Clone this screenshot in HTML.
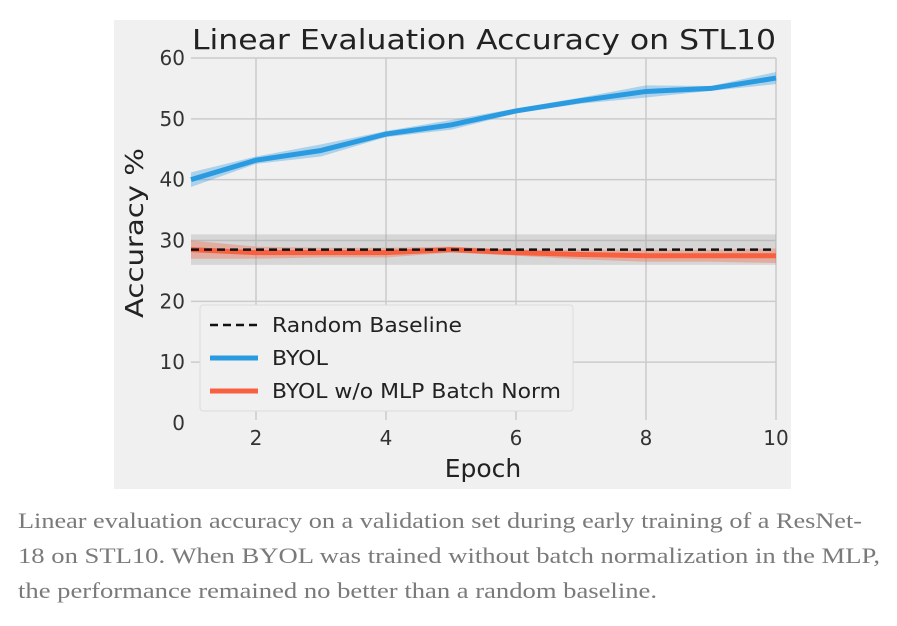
<!DOCTYPE html>
<html><head><meta charset="utf-8"><style>
body{margin:0;width:897px;height:626px;background:#fff;overflow:hidden;position:relative}
</style></head><body>
<svg width="897" height="626" style="position:absolute;left:0;top:0" font-family="DejaVu Sans, sans-serif">
<rect x="114" y="20" width="677" height="469" fill="#f0f0f0"/>
<g id="grid"></g><g id="marks"></g>
<text x="192" y="49" font-size="28" fill="#222" textLength="584" lengthAdjust="spacingAndGlyphs">Linear Evaluation Accuracy on STL10</text>
<text x="483" y="477" text-anchor="middle" font-size="25" fill="#222">Epoch</text>
<text transform="translate(143,318) rotate(-90)" font-size="25" fill="#222" textLength="170" lengthAdjust="spacingAndGlyphs">Accuracy %</text>
<g>
<rect x="200" y="305" width="373" height="106" rx="3" fill="#f0f0f0" stroke="#dcdcdc"/>
<line x1="210" y1="325" x2="258" y2="325" stroke="#111" stroke-width="2.5" stroke-dasharray="8,5"/>
<text x="272" y="332" font-size="20" fill="#222" textLength="190" lengthAdjust="spacingAndGlyphs">Random Baseline</text>
<line x1="210" y1="358" x2="258" y2="358" stroke="#2a9be0" stroke-width="5"/>
<text x="272" y="365" font-size="20" fill="#222" textLength="56" lengthAdjust="spacingAndGlyphs">BYOL</text>
<line x1="210" y1="391" x2="258" y2="391" stroke="#f8613f" stroke-width="5"/>
<text x="272" y="398" font-size="20" fill="#222" textLength="289" lengthAdjust="spacingAndGlyphs">BYOL w/o MLP Batch Norm</text>
</g>
<g font-family="Liberation Serif, serif" font-size="22" fill="#7a7a7a">
<text x="18" y="528" textLength="844" lengthAdjust="spacingAndGlyphs">Linear evaluation accuracy on a validation set during early training of a ResNet-</text>
<text x="18" y="563" textLength="862" lengthAdjust="spacingAndGlyphs">18 on STL10. When BYOL was trained without batch normalization in the MLP,</text>
<text x="18" y="598" textLength="639" lengthAdjust="spacingAndGlyphs">the performance remained no better than a random baseline.</text>
</g>
</svg>
<script>
const epochs=[1,2,3,4,5,6,7,8,9,10];
const byol=[40,43.2,44.8,47.5,49,51.3,53,54.5,55,56.7];
const byolErr=[1.2,0.6,1,0.5,0.8,0.4,0.5,1,0.4,1];
const noBn=[28.5,28,28,28,28.5,28,27.7,27.5,27.5,27.5];
const noBnErr=[1.5,1,0.8,0.8,0.5,0.5,0.8,1,1,1.2];
const baseline=28.5, baselineErr=2.5;
const xTicks=[2,4,6,8,10];
const yTicks=[0,10,20,30,40,50,60];
const X=v=>191+(v-1)*(776-191)/9;
const Y=v=>423-v*(423-58)/60;
const NS="http://www.w3.org/2000/svg";
function mk(p,t,a){const e=document.createElementNS(NS,t);for(const k in a)e.setAttribute(k,a[k]);p.appendChild(e);return e;}
const g=document.getElementById('grid'),m=document.getElementById('marks');
yTicks.forEach(v=>{
 if(v>0){const l=mk(g,'line',{x1:191,x2:776,y1:Y(v),y2:Y(v),stroke:'#cbcbcb','stroke-width':1.5});
 
 }
 const t=mk(g,'text',{x:185,y:Y(v)+7,'text-anchor':'end','font-size':20,fill:'#333'});t.textContent=v;
 
 
});
xTicks.forEach(v=>{
 const l=mk(g,'line',{x1:X(v),x2:X(v),y1:Y(60),y2:420,stroke:'#cbcbcb','stroke-width':1.5});
 
 
 const t=mk(g,'text',{x:X(v),y:445,'text-anchor':'middle','font-size':20,fill:'#333'});t.textContent=v;
 
 
});
const bb=mk(m,'rect',{x:X(1),y:Y(baseline+baselineErr),width:X(10)-X(1),height:Y(baseline-baselineErr)-Y(baseline+baselineErr),fill:'#9a9a9a','fill-opacity':0.3});


function band(vals,err,col,name){
 let d=epochs.map((e,i)=>(i?'L':'M')+X(e)+','+Y(vals[i]+err[i])).join('');
 d+=epochs.slice().reverse().map((e,j)=>{const i=epochs.length-1-j;return 'L'+X(e)+','+Y(vals[i]-err[i]);}).join('')+'Z';
 const p=mk(m,'path',{d:d,fill:col,'fill-opacity':0.35});
 
 
}
function line(vals,col,name){
 const p=mk(m,'polyline',{points:epochs.map((e,i)=>X(e)+','+Y(vals[i])).join(' '),fill:'none',stroke:col,'stroke-width':5,'stroke-linejoin':'round'});
 
 
}
band(noBn,noBnErr,'#f8613f','no-bn-band');
line(noBn,'#f8613f','no-bn-line');
const bl=mk(m,'line',{x1:X(1),x2:X(10),y1:Y(baseline),y2:Y(baseline),stroke:'#111','stroke-width':2.5,'stroke-dasharray':'8,5'});


band(byol,byolErr,'#2a9be0','byol-band');
line(byol,'#2a9be0','byol-line');
</script>
</body></html>
